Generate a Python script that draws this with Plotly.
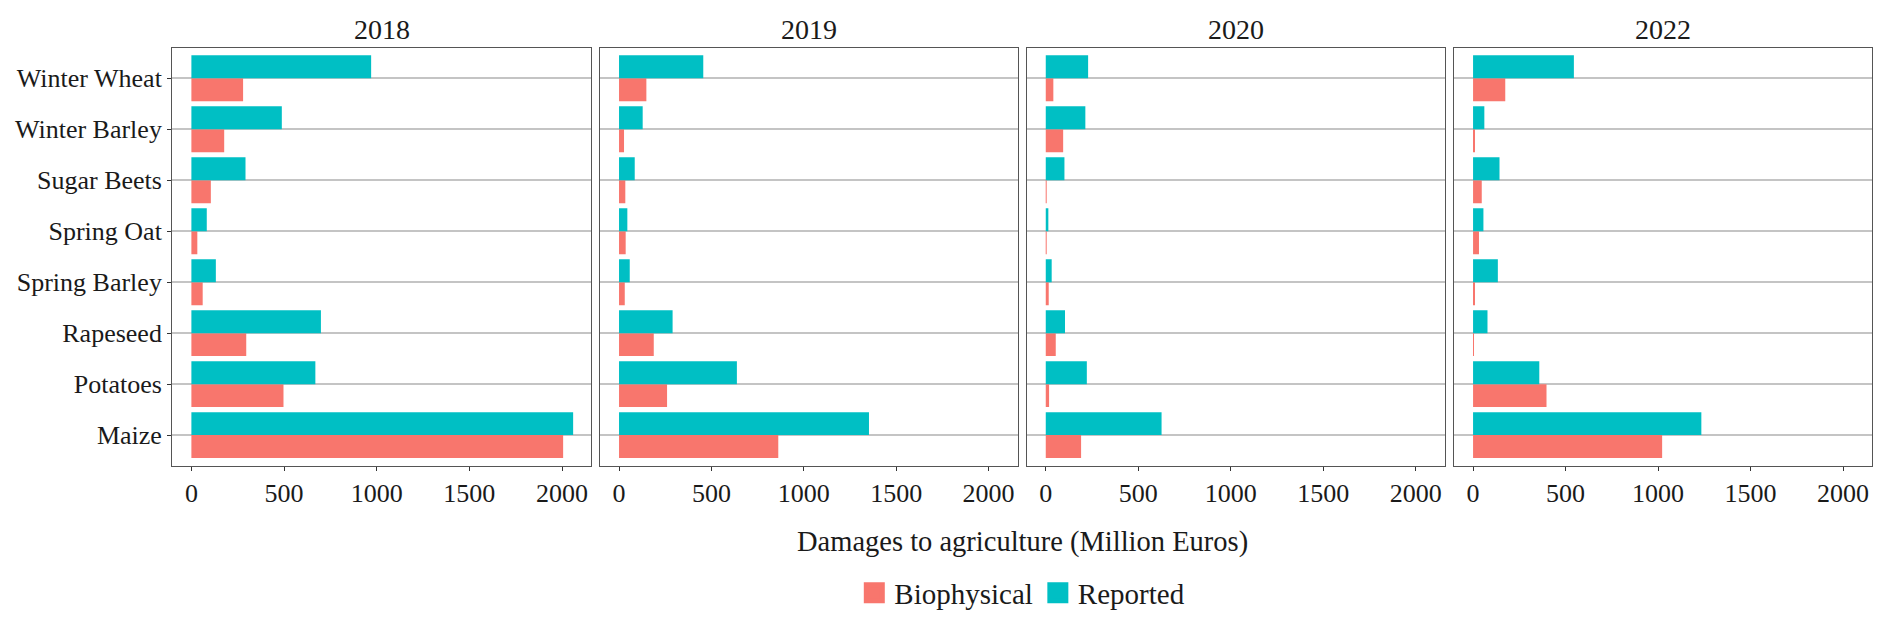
import plotly.graph_objects as go

crops = ["Winter Wheat", "Winter Barley", "Sugar Beets", "Spring Oat",
         "Spring Barley", "Rapeseed", "Potatoes", "Maize"]
years = ["2018", "2019", "2020", "2022"]

bio_2018 = [279, 177, 105, 32, 61, 296, 497, 2006]
rep_2018 = [970, 488, 292, 83, 132, 699, 669, 2060]
bio_2019 = [148, 27, 34, 36, 31, 188, 260, 862]
rep_2019 = [456, 128, 85, 45, 58, 290, 638, 1353]
bio_2020 = [41, 94, 5, 4, 16, 54, 18, 191]
rep_2020 = [229, 214, 101, 14, 32, 104, 222, 626]
bio_2022 = [174, 7, 47, 32, 7, 3, 397, 1022]
rep_2022 = [545, 61, 143, 56, 134, 78, 358, 1234]

biophysical = [bio_2018, bio_2019, bio_2020, bio_2022]
reported = [rep_2018, rep_2019, rep_2020, rep_2022]

x_ticks = [0, 500, 1000, 1500, 2000]

COL_BIO = "#F8766D"
COL_REP = "#00BFC4"
FONT = "Liberation Serif"

W, H = 1892, 628
OX, OY = 8, 8  # page body margin offset
panels_px = [(172.3, 591.3), (600.0, 1017.7), (1026.7, 1445.0), (1454.0, 1872.3)]


def px_x(v):
    return (v - OX) / W


def px_y(v):
    return 1 - (v - OY) / H


ydom = [px_y(465.7), px_y(47.7)]

fig = go.Figure()
shapes = []
annotations = []

for i, yr in enumerate(years):
    xa = "x" if i == 0 else f"x{i+1}"
    ya = "y" if i == 0 else f"y{i+1}"
    fig.add_trace(go.Bar(
        y=crops, x=biophysical[i], orientation="h", name="Biophysical",
        marker=dict(color=COL_BIO, line=dict(width=0)),
        xaxis=xa, yaxis=ya, showlegend=False))
    fig.add_trace(go.Bar(
        y=crops, x=reported[i], orientation="h", name="Reported",
        marker=dict(color=COL_REP, line=dict(width=0)),
        xaxis=xa, yaxis=ya, showlegend=False))

    x0, x1 = panels_px[i]
    xkey = "xaxis" if i == 0 else f"xaxis{i+1}"
    ykey = "yaxis" if i == 0 else f"yaxis{i+1}"
    fig.layout[xkey] = dict(
        domain=[px_x(x0), px_x(x1)], anchor=ya, range=[-103, 2158],
        tickmode="array", tickvals=x_ticks, ticktext=[str(t) for t in x_ticks],
        ticks="outside", ticklen=4, tickwidth=1.2, tickcolor="#333333",
        showline=True, mirror=True, linecolor="#555555", linewidth=1.4,
        showgrid=False, zeroline=False,
        tickfont=dict(family=FONT, size=26, color="#1a1a1a"),
    )
    fig.layout[ykey] = dict(
        domain=ydom, anchor=xa, type="category",
        categoryorder="array", categoryarray=crops[::-1],
        range=[-0.6, len(crops) - 0.4],
        showgrid=True, gridcolor="#c4c4c4", gridwidth=1.6,
        showline=True, mirror=True, linecolor="#555555", linewidth=1.4,
        zeroline=False,
        ticks="outside" if i == 0 else "", ticklen=4, tickwidth=1.2,
        tickcolor="#333333",
        showticklabels=(i == 0),
        tickfont=dict(family=FONT, size=26, color="#1a1a1a"),
    )
    for t in x_ticks:
        shapes.append(dict(type="line", xref=xa, yref=ya,
                           x0=t, x1=t, y0=-0.6, y1=len(crops) - 0.4,
                           layer="below",
                           line=dict(color="white", width=1.8)))
    annotations.append(dict(text=yr, x=px_x((x0 + x1) / 2), y=px_y(29),
                            xref="paper", yref="paper", showarrow=False,
                            xanchor="center", yanchor="middle",
                            font=dict(family=FONT, size=28, color="#1a1a1a")))

annotations.append(dict(text="Damages to agriculture (Million Euros)",
                        x=px_x(1022.3), y=px_y(541.7), xref="paper", yref="paper",
                        showarrow=False, xanchor="center", yanchor="middle",
                        font=dict(family=FONT, size=28.5, color="#1a1a1a")))

# legend entries
fig.add_trace(go.Scatter(x=[None], y=[None], mode="markers", name="Biophysical",
                         marker=dict(symbol="square", size=22, color=COL_BIO,
                                     line=dict(color=COL_BIO, width=5)),
                         showlegend=True))
fig.add_trace(go.Scatter(x=[None], y=[None], mode="markers", name="Reported",
                         marker=dict(symbol="square", size=22, color=COL_REP,
                                     line=dict(color=COL_REP, width=5)),
                         showlegend=True))

fig.update_layout(
    width=W, height=H,
    margin=dict(l=0, r=0, t=0, b=0),
    paper_bgcolor="white", plot_bgcolor="white",
    barmode="group", bargap=0.1, bargroupgap=0,
    shapes=shapes, annotations=annotations,
    legend=dict(orientation="h", x=px_x(1022.3), y=px_y(593),
                xanchor="center", yanchor="middle", traceorder="normal",
                font=dict(family=FONT, size=29, color="#1a1a1a"),
                itemsizing="trace", itemwidth=30),
    font=dict(family=FONT),
)

fig.write_html("out.html")
